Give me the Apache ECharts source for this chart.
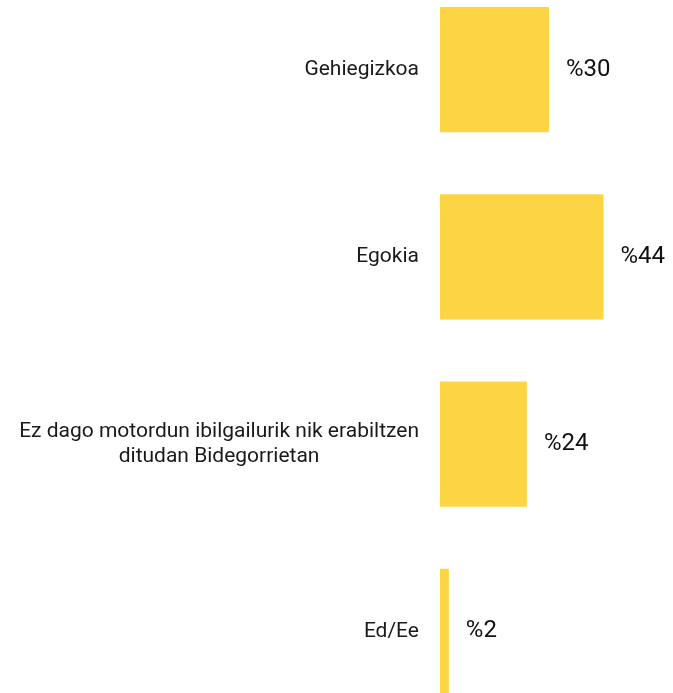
<!DOCTYPE html>
<html>
<head>
<meta charset="utf-8">
<script src="https://cdn.jsdelivr.net/npm/echarts@6/dist/echarts.min.js"></script>
<style>
  html, body { margin: 0; padding: 0; background: #fff; overflow: hidden; }
  body { position: relative; width: 673px; height: 693px; }
  #chart { position: absolute; left: 0; top: -24px; width: 673px; height: 749px; }
</style>
</head>
<body>
<div id="chart"></div>
<script>
const categories = [
  "Gehiegizkoa",
  "Egokia",
  "Ez dago motordun ibilgailurik nik erabiltzen\nditudan Bidegorrietan",
  "Ed/Ee"
];
// shares; labels show them rounded
const values = [29.6, 44.4, 23.6, 2.4];

const chart = echarts.init(document.getElementById("chart"));

const option = {
  animation: false,
  grid: {
    left: 440,
    right: 12,
    top: 0,
    bottom: 0,
    containLabel: false
  },
  xAxis: {
    type: "value",
    min: 0,
    max: 60,
    show: false
  },
  yAxis: {
    type: "category",
    inverse: true,
    data: categories,
    axisLine: { show: false },
    axisTick: { show: false },
    splitLine: { show: false },
    axisLabel: {
      margin: 21,
      align: "right",
      formatter: (v) => v.split("\n").map((l) => "{c|" + l + "}").join("\n"),
      rich: {
        c: {
          align: "center",
          fontFamily: "Roboto",
          fontSize: 21,
          color: "#1a1a1a",
          lineHeight: 25
        }
      }
    }
  },
  series: [
    {
      type: "bar",
      data: values,
      barCategoryGap: "33%",
      itemStyle: { color: "#FDD444" },
      label: {
        show: true,
        position: "right",
        distance: 17,
        formatter: (p) => "%" + Math.round(p.value),
        fontFamily: "Roboto",
        fontSize: 24,
        fontWeight: 400,
        color: "#111"
      }
    }
  ]
};

chart.setOption(option);
</script>
</body>
</html>
